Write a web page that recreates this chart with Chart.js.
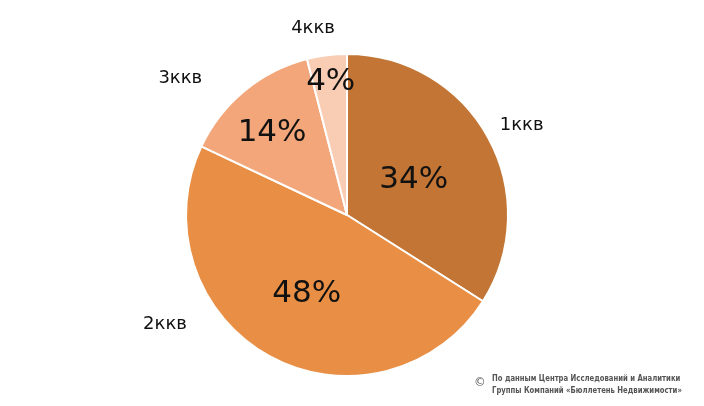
<!DOCTYPE html>
<html>
<head>
<meta charset="utf-8">
<script src="https://cdn.jsdelivr.net/npm/chart.js@4"></script>
<style>
  html, body { margin: 0; padding: 0; background: #fff; }
  #wrap { position: relative; width: 704px; height: 406px; }
  #note {
    position: absolute; left: 474px; top: 372px; white-space: nowrap;
    font-family: "DejaVu Sans Condensed", "Liberation Sans Narrow", sans-serif;
    font-weight: bold; font-size: 9.5px; line-height: 12px; color: #555;
  }
  #note .c { position: absolute; left: 0; top: 4px; font-size: 13px; font-weight: normal; }
  #note .t { margin-left: 18px; transform-origin: left top; }
</style>
</head>
<body>
<div id="wrap">
  <canvas id="chart" width="704" height="406"></canvas>
  <div id="note"><span class="c">©</span><div class="t" id="noteText">По данным Центра Исследований и Аналитики<br>Группы Компаний «Бюллетень Недвижимости»</div></div>
</div>
<script>
const categories = ["1ккв", "2ккв", "3ккв", "4ккв"];
const shares = [34, 48, 14, 4];
const sliceColors = ["#c27534", "#e98f45", "#f2a679", "#f8cdb4"];

// where the texts sit: [angle from top in degrees, distance in radii]
const pctSpots = [[62, 0.47], [207, 0.55], [317.6, 0.69], [353, 0.83]];
const nameSpots = [[62.8, 1.22], [238.9, 1.32], [309.4, 1.34], [349.7, 1.18]];

// squeeze the source note to the width it has in the original
const noteText = document.getElementById("noteText");
const noteW = noteText.scrollWidth;
if (noteW > 190) noteText.style.transform = "scaleX(" + (190 / noteW) + ")";

const labelPlugin = {
  id: "sliceLabels",
  afterDatasetsDraw(chart) {
    const ctx = chart.ctx;
    const arcs = chart.getDatasetMeta(0).data;
    ctx.save();
    ctx.textAlign = "center";
    ctx.textBaseline = "middle";
    arcs.forEach((arc, i) => {
      const { x, y, outerRadius } = arc.getProps(["x", "y", "outerRadius"], true);
      const place = (spot) => {
        const a = spot[0] * Math.PI / 180;
        return [x + Math.sin(a) * spot[1] * outerRadius, y - Math.cos(a) * spot[1] * outerRadius];
      };
      let [px, py] = place(pctSpots[i]);
      ctx.fillStyle = "#111";
      ctx.font = "31px 'DejaVu Sans', sans-serif";
      ctx.fillText(chart.data.datasets[0].data[i] + "%", px, py);
      [px, py] = place(nameSpots[i]);
      ctx.font = "18px 'DejaVu Sans', sans-serif";
      ctx.fillText(chart.data.labels[i], px, py);
    });
    ctx.restore();
  },
};

new Chart(document.getElementById("chart"), {
  type: "pie",
  data: {
    labels: categories,
    datasets: [{
      data: shares,
      backgroundColor: sliceColors,
      borderColor: "#fff",
      borderWidth: 2,
    }],
  },
  options: {
    responsive: false,
    animation: false,
    layout: { padding: { left: 185, right: 195, top: 53, bottom: 29 } },
    plugins: { legend: { display: false }, tooltip: { enabled: false } },
  },
  plugins: [labelPlugin],
});
</script>
</body>
</html>
